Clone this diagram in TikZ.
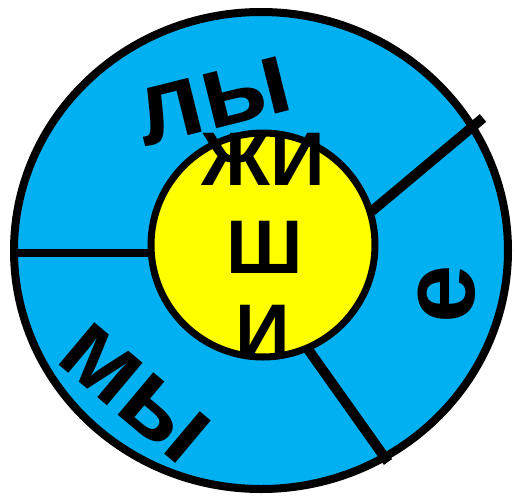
\documentclass[tikz,border=0pt]{standalone}
\usepackage{fontspec}
\setmainfont{Liberation Sans}
\usepackage{xcolor}
\usepackage{tikz}
\usetikzlibrary{shapes.geometric, positioning}

\definecolor{ringblue}{RGB}{0,176,240}
\definecolor{hubyellow}{RGB}{255,255,0}

\begin{document}
\begin{tikzpicture}[
    x=1pt, y=-1pt,
    ring/.style={draw, ellipse, line width=8pt, fill=ringblue, inner sep=0pt, minimum width=494pt, minimum height=477pt},
    hub/.style={draw, circle, line width=7pt, fill=hubyellow, inner sep=0pt, minimum size=224pt},
    divider/.style={line width=10pt},
    syl/.style={inner sep=0pt, font=\fontsize{105}{105}\selectfont\bfseries},
    hubtext/.style={inner sep=0pt, font=\fontsize{76}{76}\selectfont\bfseries}
]
    \useasboundingbox (0,0) rectangle (515,499);

    \node[ring] (outer) at (261,250.5) {};

    \coordinate (lefttip) at (14,253);
    \coordinate (righttip) at (483,118);
    \coordinate (lowtip) at (388,462);
    \coordinate (hubleft) at (151,253);
    \coordinate (hubright) at (372,211);
    \coordinate (hublow) at (300,338);

    \draw[line width=8pt] (lefttip) -- (hubleft);
    \draw[divider] (hubright) -- (righttip);
    \draw[divider] (hublow) -- (lowtip);

    \node[hub] (inner) at (263,245) {};

    \node[hubtext] (zhi) at (263,159) {ЖИ};
    \node[hubtext] (sha) at (265,247) {Ш};
    \node[hubtext] (i) at (263,331) {И};

    \node[syl, rotate=14] (ly) at (214,101) {лы};
    \node[syl, rotate=90] (e) at (447,294) {е};
    \node[syl, rotate=-40] (my) at (135,393) {мы};
\end{tikzpicture}
\end{document}
